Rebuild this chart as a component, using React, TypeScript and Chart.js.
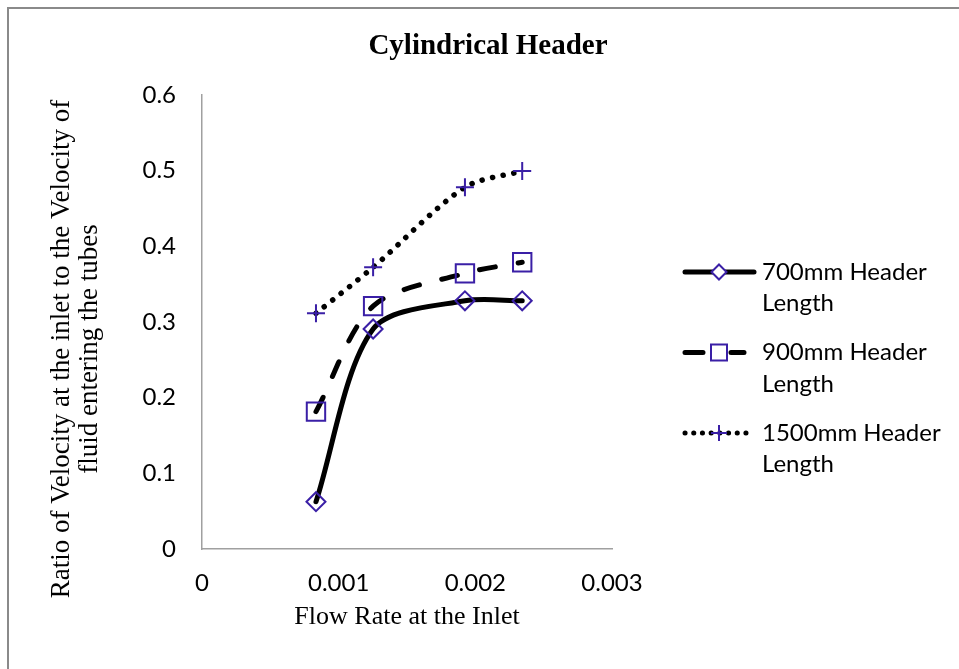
import React, { useEffect, useRef } from 'react';
import { Chart, registerables } from 'chart.js';

Chart.register(...registerables);

// ---- data ----
const xValues = [0.000834, 0.001252, 0.001924, 0.002343];
const series700 = [0.0625, 0.2907, 0.328, 0.328];
const series900 = [0.1815, 0.321, 0.3643, 0.3789];
const series1500 = [0.3115, 0.3723, 0.478, 0.4995];
const seriesNames = [
  ['700mm Header', 'Length'],
  ['900mm Header', 'Length'],
  ['1500mm Header', 'Length'],
];
const xTickLabels = ['0', '0.001', '0.002', '0.003'];
const yTickLabels = ['0', '0.1', '0.2', '0.3', '0.4', '0.5', '0.6'];
const chartTitle = 'Cylindrical Header';
const xAxisTitle = 'Flow Rate at the Inlet';
const yAxisTitle = ['Ratio of Velocity at the inlet to the Velocity of', 'fluid entering the tubes'];

// ---- styles ----
const SANS = 'Lato, "Open Sans", sans-serif';
const SERIF = '"Liberation Serif", "Times New Roman", serif';
const MARKER = '#3A1FA6';
const DASH_900 = [16, 23];
const DOT_1500 = [0.1, 10.6];
const TENSION = 0.3;

const toPoints = (ys: number[]) => ys.map((y, i) => ({ x: xValues[i], y }));

const pickLabel = (labels: string[], value: number) => {
  const f = labels.find((l) => Math.abs(parseFloat(l) - value) < 1e-9);
  return f ?? '';
};

const decorPlugin = {
  id: 'decor',
  beforeDraw(chart: any) {
    const ctx = chart.ctx;
    ctx.save();
    ctx.fillStyle = '#ffffff';
    ctx.fillRect(0, 0, chart.width, chart.height);
    ctx.fillStyle = '#8a8a8a';
    ctx.fillRect(7, 7, chart.width - 7, 2);
    ctx.fillRect(7, 7, 2, chart.height - 7);
    ctx.restore();
  },
  afterDraw(chart: any) {
    const ctx = chart.ctx;
    ctx.save();
    // chart title
    ctx.fillStyle = '#000';
    ctx.font = 'bold 29px ' + SERIF;
    ctx.textAlign = 'center';
    ctx.textBaseline = 'middle';
    ctx.fillText(chartTitle, 488, 47);

    // y axis title (rotated, two lines)
    ctx.font = '27px ' + SERIF;
    const cy = 349;
    yAxisTitle.forEach((line, i) => {
      ctx.save();
      ctx.translate(62 + i * 28, cy);
      ctx.rotate(-Math.PI / 2);
      ctx.fillText(line, 0, 0);
      ctx.restore();
    });

    // legend
    const lx0 = 683;
    const lx1 = 746;
    const mx = 719;
    const textX = 762;
    const firstY = 272;
    const itemGap = 80.5;
    const lineGap = 31.5;
    ctx.font = '24px ' + SANS;
    ctx.textAlign = 'left';
    seriesNames.forEach((name, i) => {
      const y = firstY + i * itemGap;
      ctx.strokeStyle = '#000';
      ctx.lineWidth = 5;
      ctx.lineCap = 'round';
      if (i === 0) {
        ctx.setLineDash([]);
        ctx.beginPath();
        ctx.moveTo(lx0 + 2, y);
        ctx.lineTo(lx1 + 8, y);
        ctx.stroke();
      } else if (i === 1) {
        ctx.setLineDash([]);
        ctx.beginPath();
        ctx.moveTo(lx0 + 2, y);
        ctx.lineTo(lx0 + 20, y);
        ctx.moveTo(mx + 12, y);
        ctx.lineTo(lx1 - 2, y);
        ctx.stroke();
      } else {
        ctx.setLineDash([0.1, 8.6]);
        ctx.beginPath();
        ctx.moveTo(lx0 + 2, y);
        ctx.lineTo(lx1, y);
        ctx.stroke();
      }
      ctx.setLineDash([]);
      ctx.strokeStyle = MARKER;
      ctx.lineWidth = 2;
      ctx.lineCap = 'butt';
      ctx.beginPath();
      if (i === 0) {
        const r = 7.5;
        ctx.moveTo(mx, y - r);
        ctx.lineTo(mx + r, y);
        ctx.lineTo(mx, y + r);
        ctx.lineTo(mx - r, y);
        ctx.closePath();
        ctx.fillStyle = '#fff';
        ctx.fill();
      } else if (i === 1) {
        const s = 8;
        ctx.rect(mx - s, y - s, 2 * s, 2 * s);
      } else {
        const r = 8;
        ctx.moveTo(mx - r, y);
        ctx.lineTo(mx + r, y);
        ctx.moveTo(mx, y - r);
        ctx.lineTo(mx, y + r);
      }
      ctx.stroke();
      ctx.fillStyle = '#000';
      name.forEach((t, j) => ctx.fillText(t, textX, y + j * lineGap));
    });
    ctx.restore();
  },
};

export default function App() {
  const ref = useRef<HTMLCanvasElement | null>(null);

  useEffect(() => {
    if (!ref.current) return;
    const chart = new Chart(ref.current, {
      type: 'line',
      data: {
        datasets: [
          {
            label: seriesNames[0].join(' '),
            data: toPoints(series700),
            borderColor: '#000',
            borderWidth: 5,
            tension: TENSION,
            borderCapStyle: 'round',
            borderJoinStyle: 'round',
            pointStyle: 'rectRot',
            pointRadius: 9.5,
            pointBorderColor: MARKER,
            pointBackgroundColor: 'rgba(0,0,0,0)',
            pointBorderWidth: 2,
            fill: false,
          },
          {
            label: seriesNames[1].join(' '),
            data: toPoints(series900),
            borderColor: '#000',
            borderWidth: 5,
            borderDash: DASH_900,
            tension: TENSION,
            borderCapStyle: 'round',
            borderJoinStyle: 'round',
            pointStyle: 'rect',
            pointRadius: 13,
            pointBorderColor: MARKER,
            pointBackgroundColor: 'rgba(0,0,0,0)',
            pointBorderWidth: 2,
            fill: false,
          },
          {
            label: seriesNames[2].join(' '),
            data: toPoints(series1500),
            borderColor: '#000',
            borderWidth: 5.5,
            borderDash: DOT_1500,
            tension: TENSION,
            borderCapStyle: 'round',
            borderJoinStyle: 'round',
            pointStyle: 'cross',
            pointRadius: 9,
            pointBorderColor: MARKER,
            pointBackgroundColor: 'rgba(0,0,0,0)',
            pointBorderWidth: 2,
            fill: false,
          },
        ],
      },
      options: {
        animation: false,
        responsive: false,
        devicePixelRatio: 1,
        layout: { padding: { left: 0, top: 95, right: 347, bottom: 0 } },
        plugins: {
          legend: { display: false },
          title: { display: false },
          tooltip: { enabled: false },
        },
        scales: {
          x: {
            type: 'linear',
            min: 0,
            max: 0.003,
            ticks: {
              stepSize: 0.001,
              padding: 20,
              color: '#000',
              font: { family: SANS, size: 24 },
              maxRotation: 0,
              callback: (v: any) => pickLabel(xTickLabels, Number(v)),
            },
            grid: { display: false, drawTicks: false },
            border: { display: true, color: '#a0a0a0', width: 1.5 },
            title: {
              display: true,
              text: xAxisTitle,
              color: '#000',
              font: { family: SERIF, size: 26, lineHeight: 1.2 },
              padding: { top: 0, bottom: 36 },
            },
            afterFit: (s: any) => {
              s.height = 120;
            },
          },
          y: {
            type: 'linear',
            min: 0,
            max: 0.6,
            ticks: {
              stepSize: 0.1,
              padding: 26,
              color: '#000',
              font: { family: SANS, size: 24 },
              callback: (v: any) => pickLabel(yTickLabels, Number(v)),
            },
            grid: { display: false, drawTicks: false },
            border: { display: true, color: '#a0a0a0', width: 1.5 },
            afterFit: (s: any) => {
              s.width = 202;
            },
          },
        },
      },
      plugins: [decorPlugin],
    } as any);
    return () => chart.destroy();
  }, []);

  return (
    <div style={{ position: 'fixed', left: 0, top: 0, width: 959, height: 669, background: '#fff' }}>
      <canvas ref={ref} width={959} height={669} style={{ display: 'block', width: 959, height: 669 }} />
    </div>
  );
}
